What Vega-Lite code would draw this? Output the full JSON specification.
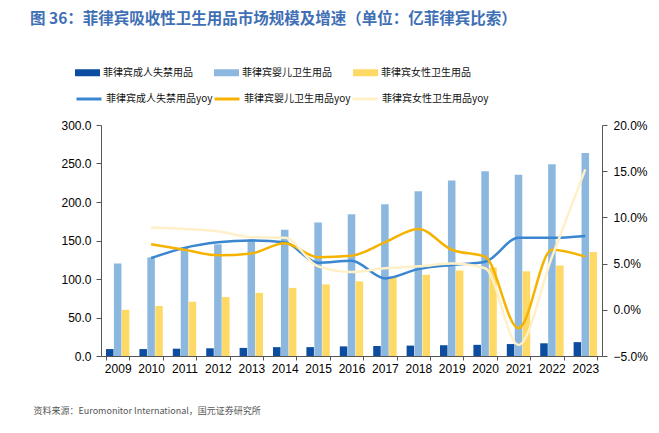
{
  "$schema": "https://vega.github.io/schema/vega-lite/v6.json",
  "width": 501,
  "height": 231,
  "autosize": {"type": "none"},
  "padding": {"left": 101, "top": 125, "right": 57, "bottom": 77},
  "background": "white",
  "config": {"view": {"stroke": null}, "font": "Liberation Sans"},
  "title": {
    "text": "图 36：菲律宾吸收性卫生用品市场规模及增速（单位：亿菲律宾比索）",
    "anchor": "start",
    "frame": "group",
    "dx": -71,
    "offset": 33,
    "fontSize": 15.5,
    "fontWeight": "bold",
    "font": "Noto Sans CJK SC",
    "color": "#3F6FB5"
  },
  "datasets": {
    "bars": [
      {"year": "2009", "series": "菲律宾成人失禁用品", "value": 9},
      {"year": "2010", "series": "菲律宾成人失禁用品", "value": 9},
      {"year": "2011", "series": "菲律宾成人失禁用品", "value": 9.5},
      {"year": "2012", "series": "菲律宾成人失禁用品", "value": 10},
      {"year": "2013", "series": "菲律宾成人失禁用品", "value": 10.5},
      {"year": "2014", "series": "菲律宾成人失禁用品", "value": 11.5},
      {"year": "2015", "series": "菲律宾成人失禁用品", "value": 11.5},
      {"year": "2016", "series": "菲律宾成人失禁用品", "value": 12.5},
      {"year": "2017", "series": "菲律宾成人失禁用品", "value": 13},
      {"year": "2018", "series": "菲律宾成人失禁用品", "value": 13.5},
      {"year": "2019", "series": "菲律宾成人失禁用品", "value": 14},
      {"year": "2020", "series": "菲律宾成人失禁用品", "value": 14.5},
      {"year": "2021", "series": "菲律宾成人失禁用品", "value": 15.5},
      {"year": "2022", "series": "菲律宾成人失禁用品", "value": 16.5},
      {"year": "2023", "series": "菲律宾成人失禁用品", "value": 18},
      {"year": "2009", "series": "菲律宾婴儿卫生用品", "value": 120},
      {"year": "2010", "series": "菲律宾婴儿卫生用品", "value": 128},
      {"year": "2011", "series": "菲律宾婴儿卫生用品", "value": 141},
      {"year": "2012", "series": "菲律宾婴儿卫生用品", "value": 145},
      {"year": "2013", "series": "菲律宾婴儿卫生用品", "value": 151.5},
      {"year": "2014", "series": "菲律宾婴儿卫生用品", "value": 164},
      {"year": "2015", "series": "菲律宾婴儿卫生用品", "value": 173.5},
      {"year": "2016", "series": "菲律宾婴儿卫生用品", "value": 184},
      {"year": "2017", "series": "菲律宾婴儿卫生用品", "value": 197},
      {"year": "2018", "series": "菲律宾婴儿卫生用品", "value": 214},
      {"year": "2019", "series": "菲律宾婴儿卫生用品", "value": 228},
      {"year": "2020", "series": "菲律宾婴儿卫生用品", "value": 240},
      {"year": "2021", "series": "菲律宾婴儿卫生用品", "value": 235.5},
      {"year": "2022", "series": "菲律宾婴儿卫生用品", "value": 249},
      {"year": "2023", "series": "菲律宾婴儿卫生用品", "value": 263.5},
      {"year": "2009", "series": "菲律宾女性卫生用品", "value": 60},
      {"year": "2010", "series": "菲律宾女性卫生用品", "value": 65},
      {"year": "2011", "series": "菲律宾女性卫生用品", "value": 70.5},
      {"year": "2012", "series": "菲律宾女性卫生用品", "value": 76.5},
      {"year": "2013", "series": "菲律宾女性卫生用品", "value": 82},
      {"year": "2014", "series": "菲律宾女性卫生用品", "value": 88.5},
      {"year": "2015", "series": "菲律宾女性卫生用品", "value": 93},
      {"year": "2016", "series": "菲律宾女性卫生用品", "value": 97},
      {"year": "2017", "series": "菲律宾女性卫生用品", "value": 103},
      {"year": "2018", "series": "菲律宾女性卫生用品", "value": 105.5},
      {"year": "2019", "series": "菲律宾女性卫生用品", "value": 111},
      {"year": "2020", "series": "菲律宾女性卫生用品", "value": 115},
      {"year": "2021", "series": "菲律宾女性卫生用品", "value": 110},
      {"year": "2022", "series": "菲律宾女性卫生用品", "value": 117.5},
      {"year": "2023", "series": "菲律宾女性卫生用品", "value": 135}
    ],
    "lines": [
      {"year": "2010", "series": "菲律宾成人失禁用品yoy", "value": 0.056},
      {"year": "2011", "series": "菲律宾成人失禁用品yoy", "value": 0.067},
      {"year": "2012", "series": "菲律宾成人失禁用品yoy", "value": 0.073},
      {"year": "2013", "series": "菲律宾成人失禁用品yoy", "value": 0.075},
      {"year": "2014", "series": "菲律宾成人失禁用品yoy", "value": 0.073},
      {"year": "2015", "series": "菲律宾成人失禁用品yoy", "value": 0.051},
      {"year": "2016", "series": "菲律宾成人失禁用品yoy", "value": 0.053},
      {"year": "2017", "series": "菲律宾成人失禁用品yoy", "value": 0.034},
      {"year": "2018", "series": "菲律宾成人失禁用品yoy", "value": 0.044},
      {"year": "2019", "series": "菲律宾成人失禁用品yoy", "value": 0.0485},
      {"year": "2020", "series": "菲律宾成人失禁用品yoy", "value": 0.052},
      {"year": "2021", "series": "菲律宾成人失禁用品yoy", "value": 0.078},
      {"year": "2022", "series": "菲律宾成人失禁用品yoy", "value": 0.078},
      {"year": "2023", "series": "菲律宾成人失禁用品yoy", "value": 0.08},
      {"year": "2010", "series": "菲律宾婴儿卫生用品yoy", "value": 0.071},
      {"year": "2011", "series": "菲律宾婴儿卫生用品yoy", "value": 0.065},
      {"year": "2012", "series": "菲律宾婴儿卫生用品yoy", "value": 0.059},
      {"year": "2013", "series": "菲律宾婴儿卫生用品yoy", "value": 0.061},
      {"year": "2014", "series": "菲律宾婴儿卫生用品yoy", "value": 0.072},
      {"year": "2015", "series": "菲律宾婴儿卫生用品yoy", "value": 0.057},
      {"year": "2016", "series": "菲律宾婴儿卫生用品yoy", "value": 0.0585},
      {"year": "2017", "series": "菲律宾婴儿卫生用品yoy", "value": 0.073},
      {"year": "2018", "series": "菲律宾婴儿卫生用品yoy", "value": 0.0875},
      {"year": "2019", "series": "菲律宾婴儿卫生用品yoy", "value": 0.065},
      {"year": "2020", "series": "菲律宾婴儿卫生用品yoy", "value": 0.0575},
      {"year": "2021", "series": "菲律宾婴儿卫生用品yoy", "value": -0.02},
      {"year": "2022", "series": "菲律宾婴儿卫生用品yoy", "value": 0.065},
      {"year": "2023", "series": "菲律宾婴儿卫生用品yoy", "value": 0.0575},
      {"year": "2010", "series": "菲律宾女性卫生用品yoy", "value": 0.089},
      {"year": "2011", "series": "菲律宾女性卫生用品yoy", "value": 0.0875},
      {"year": "2012", "series": "菲律宾女性卫生用品yoy", "value": 0.085},
      {"year": "2013", "series": "菲律宾女性卫生用品yoy", "value": 0.0785},
      {"year": "2014", "series": "菲律宾女性卫生用品yoy", "value": 0.078},
      {"year": "2015", "series": "菲律宾女性卫生用品yoy", "value": 0.047},
      {"year": "2016", "series": "菲律宾女性卫生用品yoy", "value": 0.041},
      {"year": "2017", "series": "菲律宾女性卫生用品yoy", "value": 0.045},
      {"year": "2018", "series": "菲律宾女性卫生用品yoy", "value": 0.047},
      {"year": "2019", "series": "菲律宾女性卫生用品yoy", "value": 0.05},
      {"year": "2020", "series": "菲律宾女性卫生用品yoy", "value": 0.045},
      {"year": "2021", "series": "菲律宾女性卫生用品yoy", "value": -0.038},
      {"year": "2022", "series": "菲律宾女性卫生用品yoy", "value": 0.057},
      {"year": "2023", "series": "菲律宾女性卫生用品yoy", "value": 0.152}
    ]
  },
  "layer": [
    {
      "data": {"name": "bars"},
      "mark": {"type": "bar"},
      "encoding": {
        "x": {
          "field": "year",
          "type": "nominal",
          "scale": {"paddingInner": 0.3, "paddingOuter": 0.15},
          "axis": {
            "labelAngle": 0,
            "labelFontSize": 12,
            "labelColor": "#000000",
            "labelPadding": 3,
            "tickBand": "extent",
            "tickSize": 4,
            "tickColor": "#555555",
            "domainColor": "#555555",
            "grid": false,
            "title": "资料来源：Euromonitor International，国元证券研究所",
            "titleFont": "Noto Sans CJK SC",
            "titleFontSize": 9,
            "titleFontWeight": "normal",
            "titleColor": "#555555",
            "titleAlign": "left",
            "titleBaseline": "alphabetic",
            "titleX": -68,
            "titleY": 57
          }
        },
        "xOffset": {
          "field": "series",
          "type": "nominal",
          "scale": {"domain": ["菲律宾成人失禁用品", "菲律宾婴儿卫生用品", "菲律宾女性卫生用品"], "paddingInner": 0.05}
        },
        "y": {
          "field": "value",
          "type": "quantitative",
          "scale": {"domain": [0, 300]},
          "axis": {
            "values": [0, 50, 100, 150, 200, 250, 300],
            "format": ".1f",
            "labelFontSize": 12,
            "labelColor": "#000000",
            "labelPadding": 5,
            "tickSize": 5,
            "tickColor": "#555555",
            "domainColor": "#555555",
            "grid": false,
            "title": null
          }
        },
        "fill": {
          "field": "series",
          "type": "nominal",
          "scale": {
            "domain": ["菲律宾成人失禁用品", "菲律宾婴儿卫生用品", "菲律宾女性卫生用品"],
            "range": ["#0D4DA0", "#8CB8E0", "#FFD966"]
          },
          "legend": {
            "orient": "none",
            "direction": "horizontal",
            "legendX": -26,
            "legendY": -65,
            "columns": 3,
            "columnPadding": 21,
            "padding": 0,
            "title": null,
            "symbolType": "M-1,-0.28H1V0.28H-1Z",
            "symbolSize": 625,
            "symbolStrokeWidth": 0,
            "labelOffset": 3,
            "labelFont": "Noto Sans CJK SC",
            "labelFontSize": 10,
            "labelColor": "#111111"
          }
        }
      }
    },
    {
      "data": {"name": "lines"},
      "mark": {"type": "line", "interpolate": "monotone", "strokeWidth": 2.5},
      "encoding": {
        "x": {"field": "year", "type": "nominal"},
        "y": {
          "field": "value",
          "type": "quantitative",
          "scale": {"domain": [-0.05, 0.2]},
          "axis": {
            "orient": "right",
            "values": [-0.05, 0, 0.05, 0.1, 0.15, 0.2],
            "format": ".1%",
            "labelFontSize": 12,
            "labelColor": "#000000",
            "labelPadding": 6,
            "tickSize": 5,
            "tickColor": "#555555",
            "domainColor": "#555555",
            "grid": false,
            "title": null
          }
        },
        "stroke": {
          "field": "series",
          "type": "nominal",
          "scale": {
            "domain": ["菲律宾成人失禁用品yoy", "菲律宾婴儿卫生用品yoy", "菲律宾女性卫生用品yoy"],
            "range": ["#3A86D0", "#F5B300", "#FFF0C8"]
          },
          "legend": {
            "orient": "none",
            "direction": "horizontal",
            "legendX": -26,
            "legendY": -40,
            "columns": 3,
            "columnPadding": -7,
            "padding": 0,
            "title": null,
            "symbolType": "stroke",
            "symbolSize": 625,
            "symbolStrokeWidth": 3,
            "labelOffset": 3,
            "labelFont": "Noto Sans CJK SC",
            "labelFontSize": 10,
            "labelColor": "#111111"
          }
        }
      }
    }
  ],
  "resolve": {"scale": {"y": "independent"}}
}
